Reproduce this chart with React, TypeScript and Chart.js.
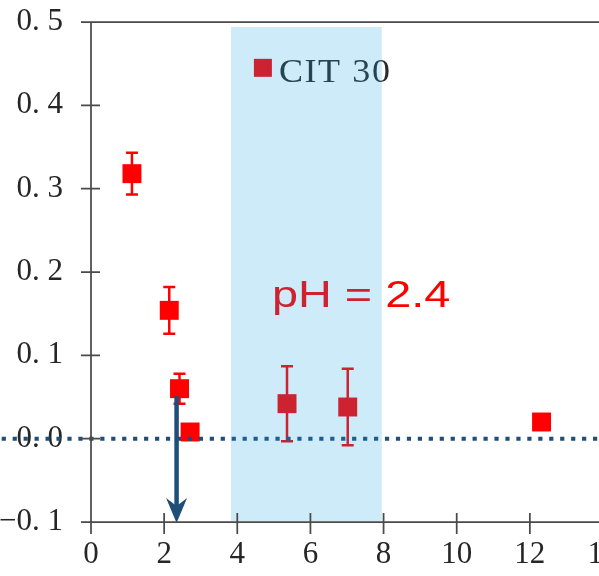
import React, { useEffect, useRef } from "react";
import { Chart, registerables } from "chart.js";

Chart.register(...registerables);

// ---- data ----
const seriesLabel = "CIT 30";
const phValues = [1.12, 2.14, 2.42, 2.71, 5.36, 7.02, 12.32];
const citValues = [0.318, 0.154, 0.06, 0.008, 0.042, 0.038, 0.02];
const citErrors = [0.025, 0.028, 0.018, 0, 0.045, 0.046, 0];

const xTicks = [0, 2, 4, 6, 8, 10, 12, 14];
const xTickLabels = ["0", "2", "4", "6", "8", "10", "12", "14"];
const yTicks = [-0.1, 0, 0.1, 0.2, 0.3, 0.4, 0.5];
const yTickLabels = ["\u22120. 1", "0. 0", "0. 1", "0. 2", "0. 3", "0. 4", "0. 5"];

const bandRange = [3.83, 7.95];
const bandTop = 0.494;
const referenceY = 0;
const arrowX = 2.34;
const arrowFrom = 0.051;
const arrowTo = -0.1;
const annotationText = "pH = 2.4";
const annotationPos = [4.95, 0.158];
const legendPos = [4.7, 0.445];

// ---- styles ----
const markerColor = "#FF0000";
const axisColor = "#4a4a4a";
const refColor = "#1F4E79";
const bandColor = "rgba(20,160,225,0.21)";
const tickFont = { family: "'Liberation Serif', serif", size: 31 };

const noPad = (s: any) => {
  s.paddingTop = 0;
  s.paddingBottom = 0;
  s.paddingLeft = 0;
  s.paddingRight = 0;
};

const overlayPlugin = {
  id: "overlay",
  beforeDatasetsDraw(chart: any) {
    const { ctx, scales } = chart;
    const xs = scales.x, ys = scales.y;
    ctx.save();
    ctx.strokeStyle = markerColor;
    ctx.lineWidth = 2.5;
    phValues.forEach((x, i) => {
      const e = citErrors[i];
      if (!e) return;
      const px = xs.getPixelForValue(x);
      const top = ys.getPixelForValue(citValues[i] + e);
      const bot = ys.getPixelForValue(citValues[i] - e);
      ctx.beginPath();
      ctx.moveTo(px, top);
      ctx.lineTo(px, bot);
      ctx.moveTo(px - 6, top);
      ctx.lineTo(px + 6, top);
      ctx.moveTo(px - 6, bot);
      ctx.lineTo(px + 6, bot);
      ctx.stroke();
    });
    ctx.restore();
  },
  afterDatasetsDraw(chart: any) {
    const { ctx, scales, chartArea, width } = chart;
    const xs = scales.x, ys = scales.y;
    ctx.save();

    // annotation text
    const ax = xs.getPixelForValue(annotationPos[0]);
    const ay = ys.getPixelForValue(annotationPos[1]);
    ctx.save();
    ctx.translate(ax, ay);
    ctx.scale(1.3, 1);
    ctx.fillStyle = markerColor;
    ctx.font = "36px 'Liberation Sans', Arial, sans-serif";
    ctx.textAlign = "left";
    ctx.textBaseline = "alphabetic";
    ctx.fillText(annotationText, 0, 0);
    ctx.restore();

    // legend
    const lx = xs.getPixelForValue(legendPos[0]);
    const ly = ys.getPixelForValue(legendPos[1]);
    ctx.fillStyle = markerColor;
    ctx.fillRect(lx - 9, ly - 9, 18, 18);
    ctx.save();
    ctx.translate(lx + 16, ly + 14);
    ctx.scale(1.06, 1);
    ctx.fillStyle = "#2b2b2b";
    ctx.font = "34px 'Liberation Serif', serif";
    (ctx as any).letterSpacing = "1.5px";
    ctx.textAlign = "left";
    ctx.textBaseline = "alphabetic";
    ctx.fillText(chart.data.datasets[0].label, 0, 0);
    ctx.restore();

    // dotted reference line
    const ry = ys.getPixelForValue(referenceY);
    ctx.strokeStyle = refColor;
    ctx.lineWidth = 4;
    ctx.setLineDash([4.2, 6.75]);
    ctx.beginPath();
    ctx.moveTo(1.7, ry);
    ctx.lineTo(width, ry);
    ctx.stroke();
    ctx.setLineDash([]);

    // arrow
    const arx = xs.getPixelForValue(arrowX);
    const ar0 = ys.getPixelForValue(arrowFrom);
    const ar1 = ys.getPixelForValue(arrowTo) + 1;
    ctx.strokeStyle = refColor;
    ctx.fillStyle = refColor;
    ctx.lineWidth = 4.5;
    ctx.beginPath();
    ctx.moveTo(arx, ar0);
    ctx.lineTo(arx, ar1 - 12);
    ctx.stroke();
    ctx.beginPath();
    ctx.moveTo(arx, ar1);
    ctx.lineTo(arx - 10.5, ar1 - 25);
    ctx.lineTo(arx, ar1 - 17);
    ctx.lineTo(arx + 10.5, ar1 - 25);
    ctx.closePath();
    ctx.fill();

    // band
    const b0 = xs.getPixelForValue(bandRange[0]);
    const b1 = xs.getPixelForValue(bandRange[1]);
    const bt = ys.getPixelForValue(bandTop);
    ctx.fillStyle = bandColor;
    ctx.fillRect(b0, bt, b1 - b0, chartArea.bottom - 1 - bt);

    // axes & ticks
    ctx.strokeStyle = axisColor;
    ctx.lineWidth = 1.75;
    ctx.beginPath();
    ctx.moveTo(chartArea.left, chartArea.top);
    ctx.lineTo(chartArea.left, chartArea.bottom);
    ctx.moveTo(chartArea.left, chartArea.bottom);
    ctx.lineTo(chartArea.right, chartArea.bottom);
    ctx.moveTo(chartArea.left, chartArea.top);
    ctx.lineTo(chartArea.right, chartArea.top);
    ctx.moveTo(chartArea.right, chartArea.top);
    ctx.lineTo(chartArea.right, chartArea.bottom);
    yTicks.forEach((v) => {
      const p = ys.getPixelForValue(v);
      ctx.moveTo(chartArea.left - 10, p);
      ctx.lineTo(chartArea.left + 9, p);
    });
    xTicks.forEach((v) => {
      const p = xs.getPixelForValue(v);
      ctx.moveTo(p, chartArea.bottom - 9);
      ctx.lineTo(p, chartArea.bottom + 12);
    });
    ctx.stroke();
    ctx.restore();
  },
};

export default function App() {
  const ref = useRef<HTMLCanvasElement>(null);
  useEffect(() => {
    const canvas = ref.current!;
    const chart = new Chart(canvas, {
      type: "scatter",
      data: {
        datasets: [
          {
            label: seriesLabel,
            data: phValues.map((x, i) => ({ x, y: citValues[i] })),
            pointStyle: "rect",
            pointRadius: 13.4,
            pointHoverRadius: 13.4,
            backgroundColor: markerColor,
            borderWidth: 0,
          },
        ],
      },
      options: {
        responsive: false,
        animation: false,
        events: [],
        layout: { padding: { top: 22, right: 17, left: 0, bottom: 0 } },
        plugins: { legend: { display: false }, tooltip: { enabled: false } },
        scales: {
          x: {
            type: "linear",
            min: 0,
            max: 14,
            afterFit: (s: any) => {
              s.height = 54;
              noPad(s);
            },
            afterBuildTicks: (s: any) => {
              s.ticks = xTicks.map((v) => ({ value: v }));
            },
            ticks: {
              callback: (_v: any, i: number) => xTickLabels[i],
              font: tickFont,
              color: "#262626",
              padding: 14,
              maxRotation: 0,
              autoSkip: false,
            },
            grid: { display: false, drawTicks: false, tickLength: 0 },
            border: { display: false },
          },
          y: {
            type: "linear",
            min: -0.1,
            max: 0.5,
            afterFit: (s: any) => {
              s.width = 91;
              noPad(s);
            },
            afterBuildTicks: (s: any) => {
              s.ticks = yTicks.map((v) => ({ value: v }));
            },
            ticks: {
              callback: (_v: any, i: number) => yTickLabels[i],
              font: tickFont,
              color: "#262626",
              padding: 28,
              autoSkip: false,
            },
            grid: { display: false, drawTicks: false, tickLength: 0 },
            border: { display: false },
          },
        },
      },
      plugins: [overlayPlugin],
    });
    return () => chart.destroy();
  }, []);
  return (
    <div
      style={{
        position: "fixed",
        left: 0,
        top: 0,
        width: 599,
        height: 576,
        overflow: "hidden",
        background: "#fff",
      }}
    >
      <canvas ref={ref} width={620} height={576} style={{ width: 620, height: 576, display: "block" }} />
    </div>
  );
}
